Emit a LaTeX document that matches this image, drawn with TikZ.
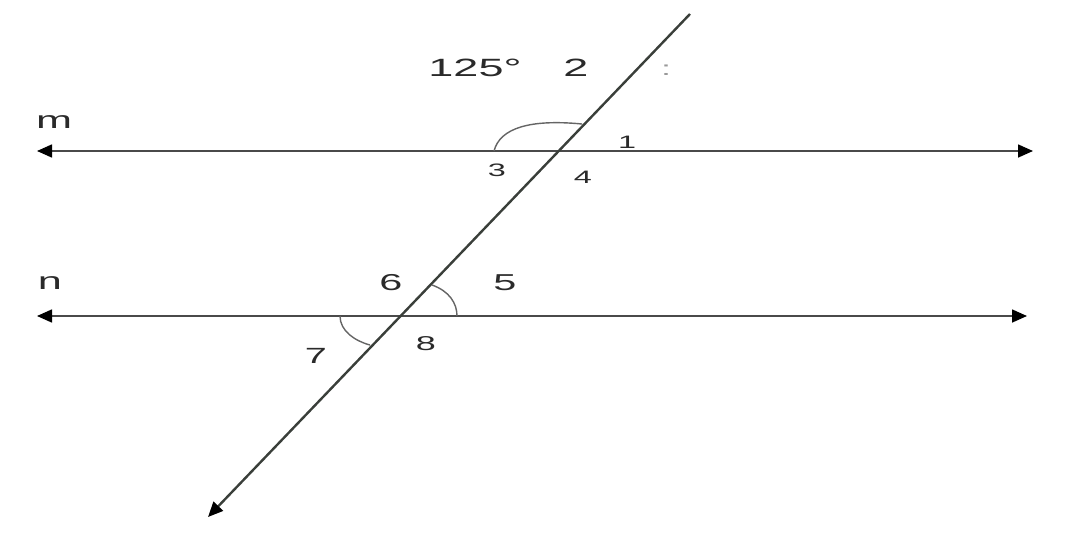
\documentclass[tikz,border=0pt]{standalone}
\usepackage{fontspec}
\setmainfont{Liberation Sans}
\usetikzlibrary{arrows.meta}
\definecolor{ln}{HTML}{4A4A4A}
\definecolor{tn}{HTML}{3A3F3A}
\definecolor{tx}{HTML}{2A2A2A}
\tikzset{
  tip/.tip={Triangle[length=15pt,width=13pt,fill=black,color=black]},
  pline/.style={draw=ln, line width=1.6pt, tip-tip},
  tline/.style={draw=tn, line width=2.4pt, -tip},
  anglearc/.style={draw=ln!85, line width=1.4pt},
  lbl/.style={text=tx, inner sep=0pt},
}
\newcommand{\wide}[2]{\scalebox{1.8}[1]{\fontsize{#1}{#1}\selectfont #2}}
\begin{document}
\begin{tikzpicture}[x=1pt,y=-1pt]
\useasboundingbox (0,0) rectangle (1075,533);
% lines
\coordinate (mL) at (37,151);
\coordinate (mR) at (1033,151);
\coordinate (nL) at (37,316);
\coordinate (nR) at (1027,316);
\coordinate (tT) at (690,14);
\coordinate (tB) at (208,517);
\draw[pline] (mL) -- (mR);
\draw[pline] (nL) -- (nR);
\draw[tline] (tT) -- (tB);
% angle arcs
\coordinate (a1s) at (494,151);
\coordinate (a1e) at (582,124);
\draw[anglearc] (a1s) .. controls (500,128) and (530,119) .. (a1e);
\coordinate (a5s) at (432,285);
\coordinate (a5e) at (457,316);
\draw[anglearc] (a5s) .. controls (449,291) and (457,303) .. (a5e);
\coordinate (a7s) at (340,316);
\coordinate (a7e) at (370,345);
\draw[anglearc] (a7s) .. controls (340,331) and (355,341) .. (a7e);
% labels
\node[lbl] (lm) at (54,122) {\wide{24pt}{m}};
\node[lbl] (ln) at (50,283) {\wide{24pt}{n}};
\node[lbl] (l125) at (475,68) {\wide{25pt}{125°}};
\node[lbl] (l2) at (576,68) {\wide{25pt}{2}};
\node[lbl, text=gray!80] (lc) at (666,70) {\wide{20pt}{:}};
\node[lbl] (l1) at (627,142) {\wide{18pt}{1}};
\node[lbl] (l3) at (497,170) {\wide{18pt}{3}};
\node[lbl] (l4) at (583,177) {\wide{18pt}{4}};
\node[lbl] (l6) at (391,283) {\wide{23pt}{6}};
\node[lbl] (l5) at (505,283) {\wide{23pt}{5}};
\node[lbl] (l7) at (316,356) {\wide{22pt}{7}};
\node[lbl] (l8) at (426,344) {\wide{20pt}{8}};
\end{tikzpicture}
\end{document}
